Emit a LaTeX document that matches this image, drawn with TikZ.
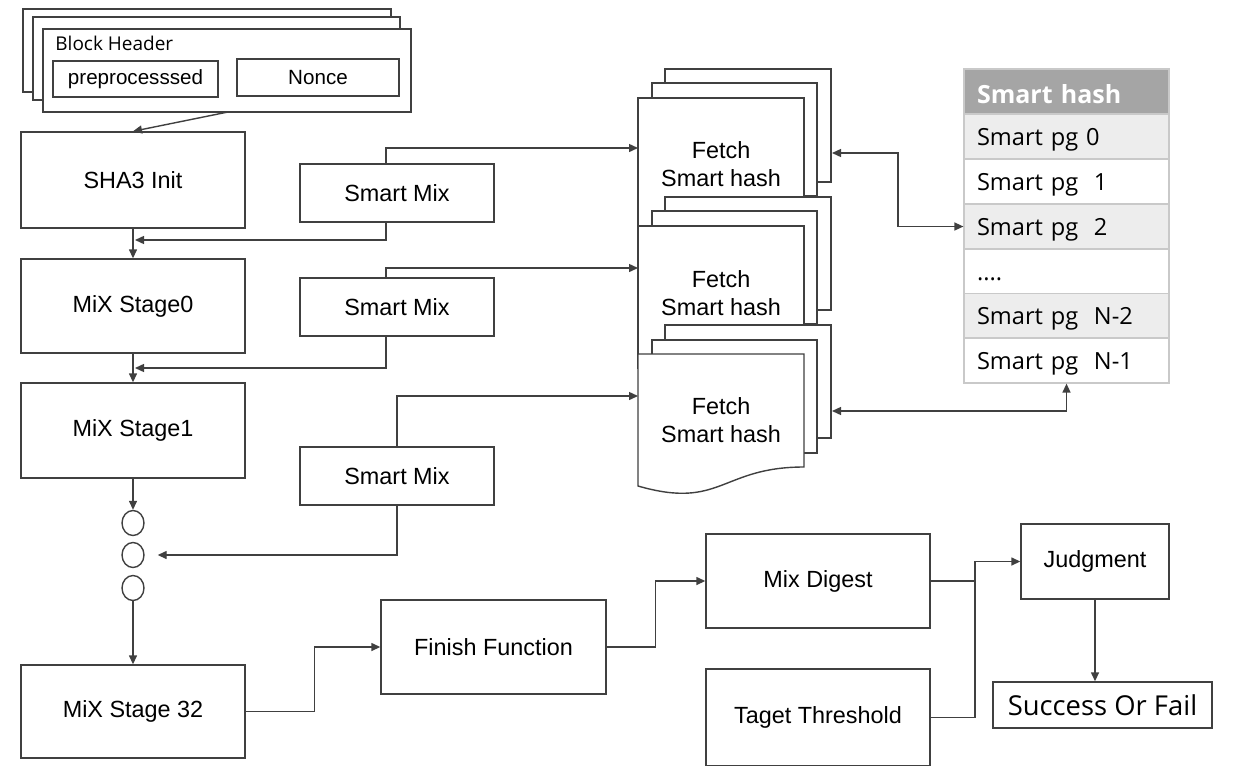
\documentclass[tikz,border=0pt]{standalone}
\usepackage{fontspec}
\setmainfont{Liberation Sans}
\newfontfamily\kfont{Open Sans}
\usetikzlibrary{arrows.meta,shapes.geometric}
\definecolor{lc}{HTML}{404040}
\definecolor{hdr}{HTML}{A5A5A5}
\definecolor{rowg}{HTML}{EDEDED}
\definecolor{rowb}{HTML}{C9C9C9}
\begin{document}
\begin{tikzpicture}[x=0.5pt,y=-0.5pt,
  box/.style={draw=lc, line width=0.7pt, fill=white, inner sep=0pt, align=center, font=\fontsize{11.7}{14}\selectfont},
  conn/.style={draw=lc, line width=0.7pt},
  arr/.style={conn, -{Triangle[length=4.5pt,width=4pt]}},
  darr/.style={conn, {Triangle[length=4.5pt,width=4pt]}-{Triangle[length=4.5pt,width=4pt]}},
  sheet/.style={draw=lc, line width=0.7pt, fill=white},
  row/.style={draw=rowb, line width=0.6pt, inner xsep=6.5pt, inner ysep=0pt, text width=89.5pt, align=left, minimum height=22.5pt, text height=11pt, text depth=2.5pt, font=\kfont\fontsize{11.8}{14}\selectfont},
  dot/.style={ellipse, draw=lc, line width=0.7pt, fill=white, minimum width=11pt, minimum height=12.5pt, inner sep=0pt},
  ftext/.style={align=center, inner sep=0pt, font=\fontsize{11.7}{14}\selectfont}
]
\useasboundingbox (0,0) rectangle (1234,765);

% ---- Block header stack
\draw[sheet] (23,9) rectangle (391,92);
\draw[sheet] (33,17) rectangle (400,100);
\node[sheet, minimum width=184pt, minimum height=41.5pt, inner sep=0pt] (bh) at (227,70.5) {};
\node[anchor=west, inner sep=0pt, font=\kfont\fontsize{9.5}{11}\selectfont] (bhl) at (55,43) {Block Header};
\node[box, minimum width=82.5pt, minimum height=18pt, font=\fontsize{10.3}{12}\selectfont] (pre) at (135.5,79) {preprocesssed};
\node[box, minimum width=81pt, minimum height=18.5pt, font=\fontsize{10.3}{12}\selectfont] (nonce) at (318,77.5) {Nonce};
\coordinate (bhout) at (228,112);

% ---- Left column
\node[box, minimum width=112pt, minimum height=48pt] (sha) at (133,180) {SHA3 Init};
\node[box, minimum width=112pt, minimum height=47pt] (s0) at (133,306) {MiX Stage0};
\node[box, minimum width=112pt, minimum height=47.5pt] (s1) at (133,430.5) {MiX Stage1};
\node[dot] (c1) at (133,523) {};
\node[dot] (c2) at (133,555) {};
\node[dot] (c3) at (133,588) {};
\node[box, minimum width=112pt, minimum height=46.5pt] (s32) at (133,711.5) {MiX Stage 32};

% ---- Smart Mix boxes
\node[box, minimum width=97pt, minimum height=29pt] (sm1) at (397,193) {Smart Mix};
\node[box, minimum width=97pt, minimum height=29pt] (sm2) at (397,307) {Smart Mix};
\node[box, minimum width=97pt, minimum height=29pt] (sm3) at (397,476) {Smart Mix};

% ---- Fetch stacks
\foreach \d in {0,128}{
  \draw[sheet] (665,69+\d) rectangle (831,182+\d);
  \draw[sheet] (652,83+\d) rectangle (817,196+\d);
  \draw[sheet] (638,98+\d) rectangle (804,240+\d);
}
\draw[sheet] (665,325) rectangle (831,438);
\draw[sheet] (652,340) rectangle (817,453);
\draw[sheet] (638,354) -- (804,354) -- (804,467) .. controls (721,467) and (721,510) .. (638,486) -- cycle;
\node[ftext] (ft1) at (721,164) {Fetch\\Smart hash};
\node[ftext] (ft2) at (721,293) {Fetch\\Smart hash};
\node[ftext] (ft3) at (721,420) {Fetch\\Smart hash};
\coordinate (f1in) at (638,148);
\coordinate (f2in) at (638,268);
\coordinate (f3in) at (638,396);
\coordinate (f1out) at (832,153);
\coordinate (f3out) at (832,411);
\coordinate (bx) at (898,0);

% ---- Smart hash table
\node[row, fill=hdr, text=white, text height=12pt, text depth=0.2pt, font=\kfont\bfseries\fontsize{12.5}{14}\selectfont] (th) at (1066.5,91.5) {Smart hash};
\node[row, fill=rowg] (r0) at (1066.5,136.5) {Smart pg 0};
\node[row, fill=white] (r1) at (1066.5,181.5) {Smart pg\ \ 1};
\node[row, fill=rowg] (r2) at (1066.5,226.5) {Smart pg\ \ 2};
\node[row, fill=white] (r3) at (1066.5,271.5) {....};
\node[row, fill=rowg] (r4) at (1066.5,316) {Smart pg\ \ N-2};
\node[row, fill=white] (r5) at (1066.5,360.5) {Smart pg\ \ N-1};

% ---- Bottom part
\node[box, minimum width=112.5pt, minimum height=47pt] (fin) at (493.5,647) {Finish Function};
\node[box, minimum width=112pt, minimum height=47pt] (md) at (818,581) {Mix Digest};
\node[box, minimum width=112pt, minimum height=48.5pt] (tt) at (818,717.5) {Taget Threshold};
\node[box, minimum width=74pt, minimum height=37.5pt] (jd) at (1095,561.5) {Judgment};
\node[box, minimum width=109.5pt, minimum height=23pt, font=\kfont\fontsize{13.7}{16}\selectfont] (sf) at (1102.5,705) {Success Or Fail};
\coordinate (jx) at (975,562);
\coordinate (j1) at (135,240);
\coordinate (j2) at (135,368);

% ---- Connectors
\draw[arr] (bhout) -- (sha.north);
\draw[arr] (sha) -- (s0);
\draw[arr] (s0) -- (s1);
\draw[arr] (s1) -- (c1);
\draw[arr] (c3) -- (s32);
\draw[arr] ([xshift=-5.5pt]sm1.north) |- (f1in);
\draw[arr] ([xshift=-5.5pt]sm1.south) |- (j1);
\draw[arr] ([xshift=-5.5pt]sm2.north) |- (f2in);
\draw[arr] ([xshift=-5.5pt]sm2.south) |- (j2);
\draw[arr] (sm3.north) |- (f3in);
\draw[arr, shorten >=6.5pt] (sm3.south) |- (c2.east);
\draw[darr] (f1out) -- (f1out -| bx) |- (r2.west);
\draw[darr] (f3out) -| (r5.south);
\draw[arr] (s32.east) -- ++(34.5pt,0) |- (fin.west);
\draw[arr] (fin.east) -- ++(24.5pt,0) |- (md.west);
\draw[arr] (md.east) -- (md.east -| jx) |- (jd.west);
\draw[conn] (tt.east) -| (jx);
\draw[arr] (jd.south) -- (jd.south |- sf.north);
\end{tikzpicture}
\end{document}
